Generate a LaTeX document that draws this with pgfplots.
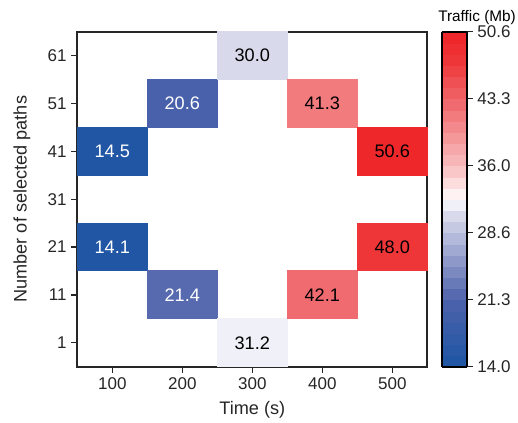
\documentclass[border=0pt]{standalone}
\usepackage{fontspec}
\setmainfont{Liberation Sans}
\usepackage{pgfplots}
\pgfplotsset{compat=1.18}
\definecolor{axc}{RGB}{38,38,38}
\pgfplotsset{
 colormap={trafficbase}{
   rgb255(0mm)=(33,86,165)
   rgb255(17mm)=(72,96,170)
   rgb255(21mm)=(88,107,176)
   rgb255(45mm)=(217,218,235)
   rgb255(48mm)=(238,238,247)
   rgb255(50mm)=(255,255,255)
   rgb255(52mm)=(255,240,240)
   rgb255(60mm)=(248,190,192)
   rgb255(76mm)=(242,122,125)
   rgb255(79mm)=(240,108,112)
   rgb255(93mm)=(238,53,56)
   rgb255(100mm)=(238,40,42)
 },
 colormap={traffic}{samples of colormap=(30 of trafficbase)},
}
\pgfplotstableread{
x y v
100 41 14.5
100 21 14.1
200 51 20.6
200 11 21.4
}\darkcells
\pgfplotstableread{
x y v
300 61 30.0
300 1 31.2
400 51 41.3
400 11 42.1
500 41 50.6
500 21 48.0
}\lightcells
\begin{document}
\begin{tikzpicture}
\useasboundingbox (-57.975pt,-42.225pt) rectangle (330.525pt,275.025pt);
\begin{axis}[
  at={(0,0)}, anchor=south west,
  scale only axis, width=262.5pt, height=251.25pt,
  xmin=50, xmax=550, ymin=-4, ymax=66,
  xtick={100,200,300,400,500}, ytick={1,11,21,31,41,51,61},
  xtick pos=left, ytick pos=left,
  tick align=outside, major tick length=4.5pt,
  /pgf/number format/assume math mode=true,
  axis line style={axc, line width=1.3pt},
  every tick/.style={axc, line width=1pt},
  tick label style={font=\fontsize{12.75}{14}\selectfont, text=axc},
  label style={font=\fontsize{13.6}{15}\selectfont, text=axc},
  xlabel={Time (s)}, ylabel={Number of selected paths},
  xlabel style={at={(axis description cs:0.5,0)}, anchor=center, yshift=-32.6pt},
  ylabel style={at={(axis description cs:-0.158,0.5)}, anchor=center},
  axis on top,
  colormap name=traffic, colormap access=piecewise constant,
  point meta min=14.0, point meta max=50.6,
  colorbar,
  colorbar shift/.style={xshift=10.8pt},
  colorbar style={
    at={(parent axis.south east)}, anchor=south west,
    scale only axis, width=18.75pt, height=251.25pt,
    ytick={14.0,21.32,28.64,35.96,43.28,50.6},
    yticklabels={14.0,21.3,28.6,36.0,43.3,50.6},
    ytick pos=right, yticklabel pos=right,
    tick align=outside, major tick length=4.5pt,
    axis line style={black, line width=1.4pt},
    every tick/.style={axc, line width=1pt},
    yticklabel style={font=\fontsize{12.75}{14}\selectfont, text=axc},
  },
]
\addplot[scatter, only marks, mark=square*, mark size=17.946pt,
  mark options={xscale=1.4627, line width=0pt},
  scatter/use mapped color={draw=mapped color, fill=mapped color},
  point meta=explicit] table[meta=v] {\darkcells};
\addplot[scatter, only marks, mark=square*, mark size=17.946pt,
  mark options={xscale=1.4627, line width=0pt},
  scatter/use mapped color={draw=mapped color, fill=mapped color},
  point meta=explicit] table[meta=v] {\lightcells};
\addplot[draw=none, mark=none, nodes near coords, point meta=explicit symbolic,
  nodes near coords style={anchor=center, text=white, font=\fontsize{13.6}{15}\selectfont}]
  table[meta=v] {\darkcells};
\addplot[draw=none, mark=none, nodes near coords, point meta=explicit symbolic,
  nodes near coords style={anchor=center, text=black, font=\fontsize{13.6}{15}\selectfont}]
  table[meta=v] {\lightcells};
\end{axis}
\node[font=\fontsize{11.5}{13}\selectfont, text=black] at (299.8pt,261.5pt) {Traffic (Mb)};
\end{tikzpicture}
\end{document}
